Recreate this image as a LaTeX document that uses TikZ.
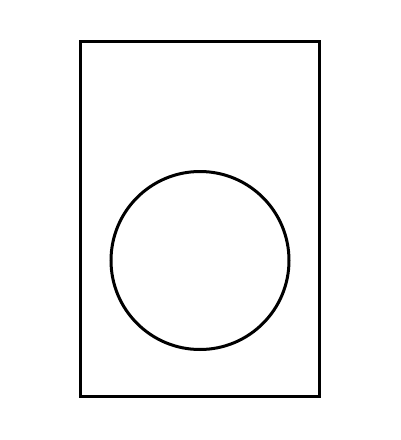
\documentclass[tikz,border=0pt]{standalone}
\begin{document}
\begin{tikzpicture}[x=1pt,y=-1pt]
        % Fix the page size
        \useasboundingbox (0,0) rectangle (400,440);
        \fill[white] (0,0) rectangle (400,440);

        % Draw outer frame
        \draw[line width=3.6pt] (80.5,41.5) rectangle (319.5,396.5);

        % Draw circle
        \draw[line width=3pt] (200,260.5) circle (89);
    \end{tikzpicture}
\end{document}
